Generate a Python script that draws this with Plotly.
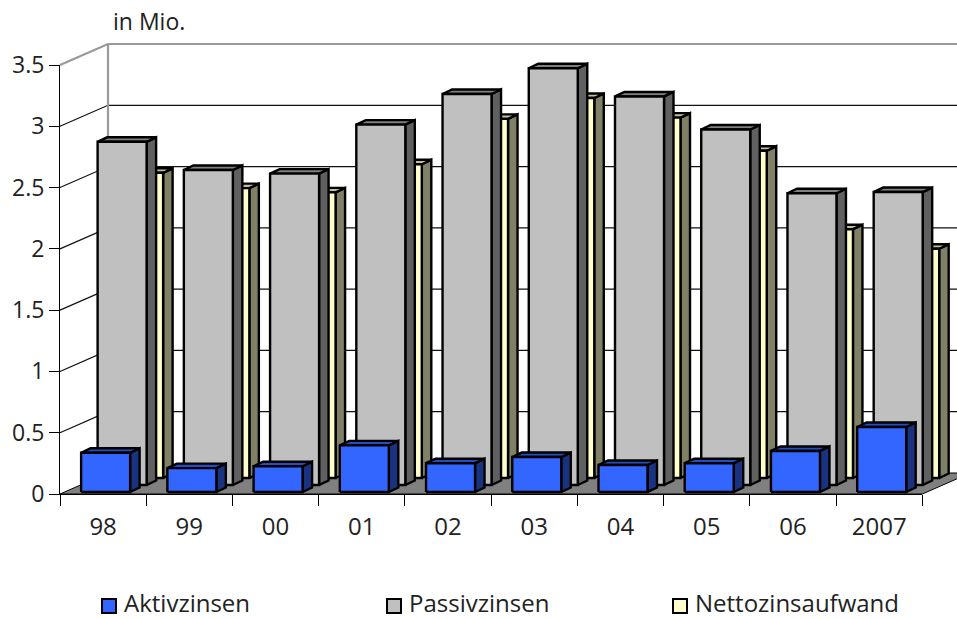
import plotly.graph_objects as go

# Chart values (millions)
years = ["98", "99", "00", "01", "02", "03", "04", "05", "06", "2007"]
aktivzinsen = [0.32, 0.195, 0.21, 0.38, 0.235, 0.285, 0.22, 0.235, 0.335, 0.53]
passivzinsen = [2.80, 2.57, 2.54, 2.94, 3.19, 3.40, 3.17, 2.90, 2.38, 2.39]
nettozinsaufwand = [2.49, 2.365, 2.33, 2.56, 2.93, 3.10, 2.94, 2.67, 2.03, 1.87]
series_names = ["Aktivzinsen", "Passivzinsen", "Nettozinsaufwand"]
y_ticks = [0, 0.5, 1, 1.5, 2, 2.5, 3, 3.5]
y_tick_labels = ["0", "0.5", "1", "1.5", "2", "2.5", "3", "3.5"]

W, H = 957, 619
LEFT, RIGHT = 60, 922.3     # front edge of the floor
BASE, TOP = 494, 65         # value 0 and value 3.5 on the front plane
PX_X = (RIGHT - LEFT) / 10  # pixels per category
PX_Y = (BASE - TOP) / 3.5   # pixels per unit

# Oblique projection, in data units
WALL_DX, WALL_DY = 48 / PX_X, 21 / PX_Y     # depth of the whole chart box
BAR_W = 49 / PX_X
BAR_DX, BAR_DY = 9.5 / PX_X, 4.5 / PX_Y     # depth of a single bar
SLOT_DX, SLOT_DY = 16.5 / PX_X, 7 / PX_Y    # step between series rows
START_X, START_Y = 2.5 / PX_X, 2 / PX_Y     # first row, relative to the front plane


def bar_faces(values, row):
    """Front, top and side polygons of one series, None-separated."""
    front_x, front_y, top_x, top_y, side_x, side_y = [], [], [], [], [], []
    for i, v in enumerate(values):
        x0 = i - BAR_W / 2 + START_X + row * SLOT_DX
        x1 = x0 + BAR_W
        y0 = START_Y + row * SLOT_DY
        y1 = y0 + v
        front_x += [x0, x1, x1, x0, x0, None]
        front_y += [y0, y0, y1, y1, y0, None]
        top_x += [x0, x1, x1 + BAR_DX, x0 + BAR_DX, x0, None]
        top_y += [y1, y1, y1 + BAR_DY, y1 + BAR_DY, y1, None]
        side_x += [x1, x1 + BAR_DX, x1 + BAR_DX, x1, x1, None]
        side_y += [y0, y0 + BAR_DY, y1 + BAR_DY, y1, y0, None]
    return (front_x, front_y), (top_x, top_y), (side_x, side_y)


def polygon(points, fill, name, width=2.4):
    return go.Scatter(
        x=points[0], y=points[1], mode="lines", fill="toself", fillcolor=fill,
        line=dict(color="black", width=width, simplify=False), hoverinfo="skip",
        name=name, showlegend=False, xaxis="x2", yaxis="y2",
    )


fig = go.Figure()

# Category axis and value axis; the trace only registers the categories
fig.add_trace(go.Scatter(x=years, y=[None] * len(years), mode="markers",
                         showlegend=False, hoverinfo="skip"))

x_left, x_right = -0.5, 9.5
far_right = x_right + WALL_DX

# Floor
fig.add_trace(polygon(
    ([x_left, x_right, far_right, x_left + WALL_DX, x_left],
     [0, 0, WALL_DY, WALL_DY, 0]), "#808080", "floor", width=1))

# Value grid running along the side wall and across the back wall
grid_x, grid_y = [], []
for v in y_ticks[1:-1]:
    grid_x += [x_left, x_left + WALL_DX, far_right, None]
    grid_y += [v, v + WALL_DY, v + WALL_DY, None]
fig.add_trace(go.Scatter(x=grid_x, y=grid_y, mode="lines", showlegend=False,
                         hoverinfo="skip", xaxis="x2", yaxis="y2",
                         line=dict(color="#111111", width=1.2)))

# Grey frame of the back wall
fig.add_trace(go.Scatter(
    x=[x_left, x_left + WALL_DX, far_right, None, x_left + WALL_DX, x_left + WALL_DX],
    y=[3.5, 3.5 + WALL_DY, 3.5 + WALL_DY, None, 3.5 + WALL_DY, WALL_DY],
    mode="lines", showlegend=False, hoverinfo="skip", xaxis="x2", yaxis="y2",
    line=dict(color="#999999", width=2.2)))

# Series from the back row to the front row
rows = [
    (nettozinsaufwand, 2, "#FFFFCC", "#C0C099", "#808066", series_names[2]),
    (passivzinsen, 1, "#C0C0C0", "#808080", "#606060", series_names[1]),
    (aktivzinsen, 0, "#3366FF", "#264DBF", "#1A3380", series_names[0]),
]
for values, row, front_c, top_c, side_c, name in rows:
    front, top, side = bar_faces(values, row)
    fig.add_trace(polygon(side, side_c, name))
    fig.add_trace(polygon(top, top_c, name))
    fig.add_trace(polygon(front, front_c, name))

# Key below the chart: a swatch and a label per series
FONT = "Open Sans"
TEXT = "#222222"
key_left = [101, 386, 672]
key_colours = ["#3366FF", "#C0C0C0", "#FFFFCC"]
swatch_y = 606
label_y = 602.5
swatches, key_labels = [], []
for name, colour, left in zip(series_names, key_colours, key_left):
    swatches.append(dict(
        type="rect", xref="paper", yref="paper", layer="above",
        x0=(left + 1) / W, x1=(left + 15) / W,
        y0=(H - swatch_y - 7) / H, y1=(H - swatch_y + 7) / H,
        fillcolor=colour, line=dict(color="black", width=2),
    ))
    key_labels.append(dict(
        text=name, xref="paper", yref="paper", x=(left + 21) / W, y=(H - label_y) / H,
        xanchor="left", yanchor="middle", showarrow=False,
        font=dict(family=FONT, size=24, color=TEXT),
    ))

fig.update_layout(
    width=W, height=H,
    margin=dict(l=0, r=0, t=0, b=0),
    paper_bgcolor="white", plot_bgcolor="rgba(0,0,0,0)",
    font=dict(family=FONT, size=23, color=TEXT),
    showlegend=False,
    xaxis=dict(
        type="category", categoryorder="array", categoryarray=years,
        domain=[LEFT / W, RIGHT / W], range=[x_left, x_right], anchor="y",
        tickson="boundaries", ticks="outside", ticklen=11, tickcolor="black",
        tickwidth=1, showline=True, linecolor="black", linewidth=1,
        showgrid=False, zeroline=False, ticklabelstandoff=11, automargin=False,
        tickfont=dict(size=24), tickangle=0,
    ),
    yaxis=dict(
        domain=[(H - BASE) / H, (H - TOP) / H], range=[0, 3.5], anchor="x",
        tickmode="array", tickvals=y_ticks, ticktext=y_tick_labels,
        ticks="outside", ticklen=10, tickcolor="black", tickwidth=1,
        showline=True, linecolor="black", linewidth=1, showgrid=False,
        zeroline=False, automargin=False,
    ),
    # Whole-page drawing surface for the projected bars
    xaxis2=dict(domain=[0, 1], range=[-0.5 - LEFT / PX_X, -0.5 + (W - LEFT) / PX_X],
                visible=False, anchor="y2"),
    yaxis2=dict(domain=[0, 1], range=[-(H - BASE) / PX_Y, BASE / PX_Y],
                visible=False, anchor="x2"),
    shapes=swatches,
    annotations=[dict(
        text="in Mio.", xref="paper", yref="paper", x=111 / W, y=(H - 21) / H,
        xanchor="left", yanchor="middle", showarrow=False,
        font=dict(family=FONT, size=23, color=TEXT),
    )] + key_labels,
)

fig.write_html("out.html", config=dict(displayModeBar=False))
